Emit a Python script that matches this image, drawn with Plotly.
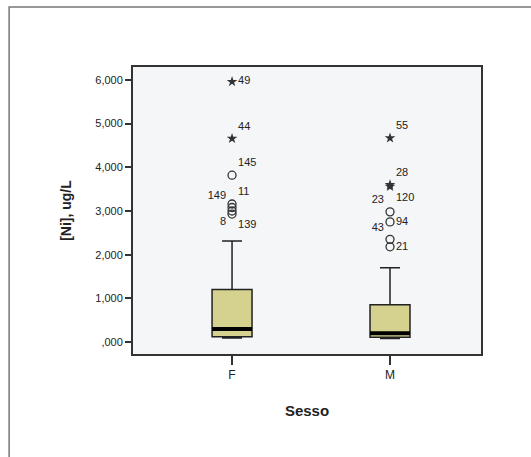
import plotly.graph_objects as go

# ---- data ----
groups = ["F", "M"]
group_pos = [0, 1]
q1 = [120, 110]
median = [300, 200]
q3 = [1200, 850]
lowerfence = [90, 80]
upperfence = [2310, 1700]

# outliers
out_group = [0, 0, 0, 0, 0, 0, 0, 1, 1, 1, 1, 1, 1, 1]
out_value = [5960, 4660, 3820, 3160, 3080, 3000, 2930, 4670, 3600, 3560, 2980, 2750, 2350, 2180]
out_label = ["49", "44", "145", "11", "149", "8", "139", "55", "28", "120", "23", "94", "43", "21"]
out_kind = ["star", "star", "circle", "circle", "circle", "circle", "circle",
            "star", "star", "star", "circle", "circle", "circle", "circle"]
out_textpos = ["middle right", "top right", "top right", "top right", "top left", "bottom left", "bottom right",
               "top right", "top right", "bottom right", "top left", "middle right", "top left", "middle right"]

ytick_vals = [0, 1000, 2000, 3000, 4000, 5000, 6000]
ytick_text = [",000", "1,000", "2,000", "3,000", "4,000", "5,000", "6,000"]

FONT = "Arial, Liberation Sans, sans-serif"
BOXW = 0.253
fig = go.Figure()

for i, g in enumerate(groups):
    fig.add_trace(go.Box(
        x=[group_pos[i]], q1=[q1[i]], median=[median[i]], q3=[q3[i]],
        lowerfence=[lowerfence[i]], upperfence=[upperfence[i]],
        width=BOXW, whiskerwidth=0.5, boxpoints=False,
        fillcolor="#d5d28f", line=dict(color="#222222", width=1.5),
        showlegend=False, hoverinfo="skip"))
    fig.add_trace(go.Scatter(
        x=[group_pos[i] - BOXW / 2, group_pos[i] + BOXW / 2],
        y=[median[i], median[i]], mode="lines",
        line=dict(color="black", width=4), showlegend=False, hoverinfo="skip"))

for kind, sym, size, lw in [("star", "star", 8, 0), ("circle", "circle-open", 8, 1.3)]:
    idx = [k for k in range(len(out_value)) if out_kind[k] == kind]
    fig.add_trace(go.Scatter(
        x=[group_pos[out_group[k]] for k in idx],
        y=[out_value[k] for k in idx],
        mode="markers+text",
        text=[out_label[k] for k in idx],
        textposition=[out_textpos[k] for k in idx],
        textfont=dict(family=FONT, size=11, color="#222222"),
        marker=dict(symbol=sym, size=size, color="#333333",
                    line=dict(color="#333333", width=lw)),
        showlegend=False, hoverinfo="skip", cliponaxis=False))

fig.update_layout(
    width=531, height=457,
    margin=dict(l=133, r=50, t=67, b=103),
    paper_bgcolor="white", plot_bgcolor="#f5f6f8",
    font=dict(family=FONT, size=11, color="#222222"),
    xaxis=dict(range=[-0.627, 1.576], tickvals=group_pos, ticktext=groups,
               showgrid=False, zeroline=False, showline=True, mirror=True,
               linecolor="#333333", linewidth=2, ticks="outside", ticklen=9,
               tickcolor="#333333", tickwidth=2,
               tickfont=dict(size=12),
               title=dict(text="<b>Sesso</b>", font=dict(size=15), standoff=24)),
    yaxis=dict(range=[-275, 6297], tickvals=ytick_vals, ticktext=ytick_text,
               showgrid=False, zeroline=False, showline=True, mirror=True,
               linecolor="#333333", linewidth=2, ticks="outside", ticklen=6,
               tickcolor="#333333", tickwidth=1.5,
               title=dict(text="<b>[Ni], ug/L</b>", font=dict(size=14), standoff=20)),
    shapes=[dict(type="path", xref="paper", yref="paper",
                 path="M -0.356 -0.36 L -0.356 1.209 L 1.144 1.209",
                 line=dict(color="#777777", width=1.5))],
)

fig.write_html("out.html")
